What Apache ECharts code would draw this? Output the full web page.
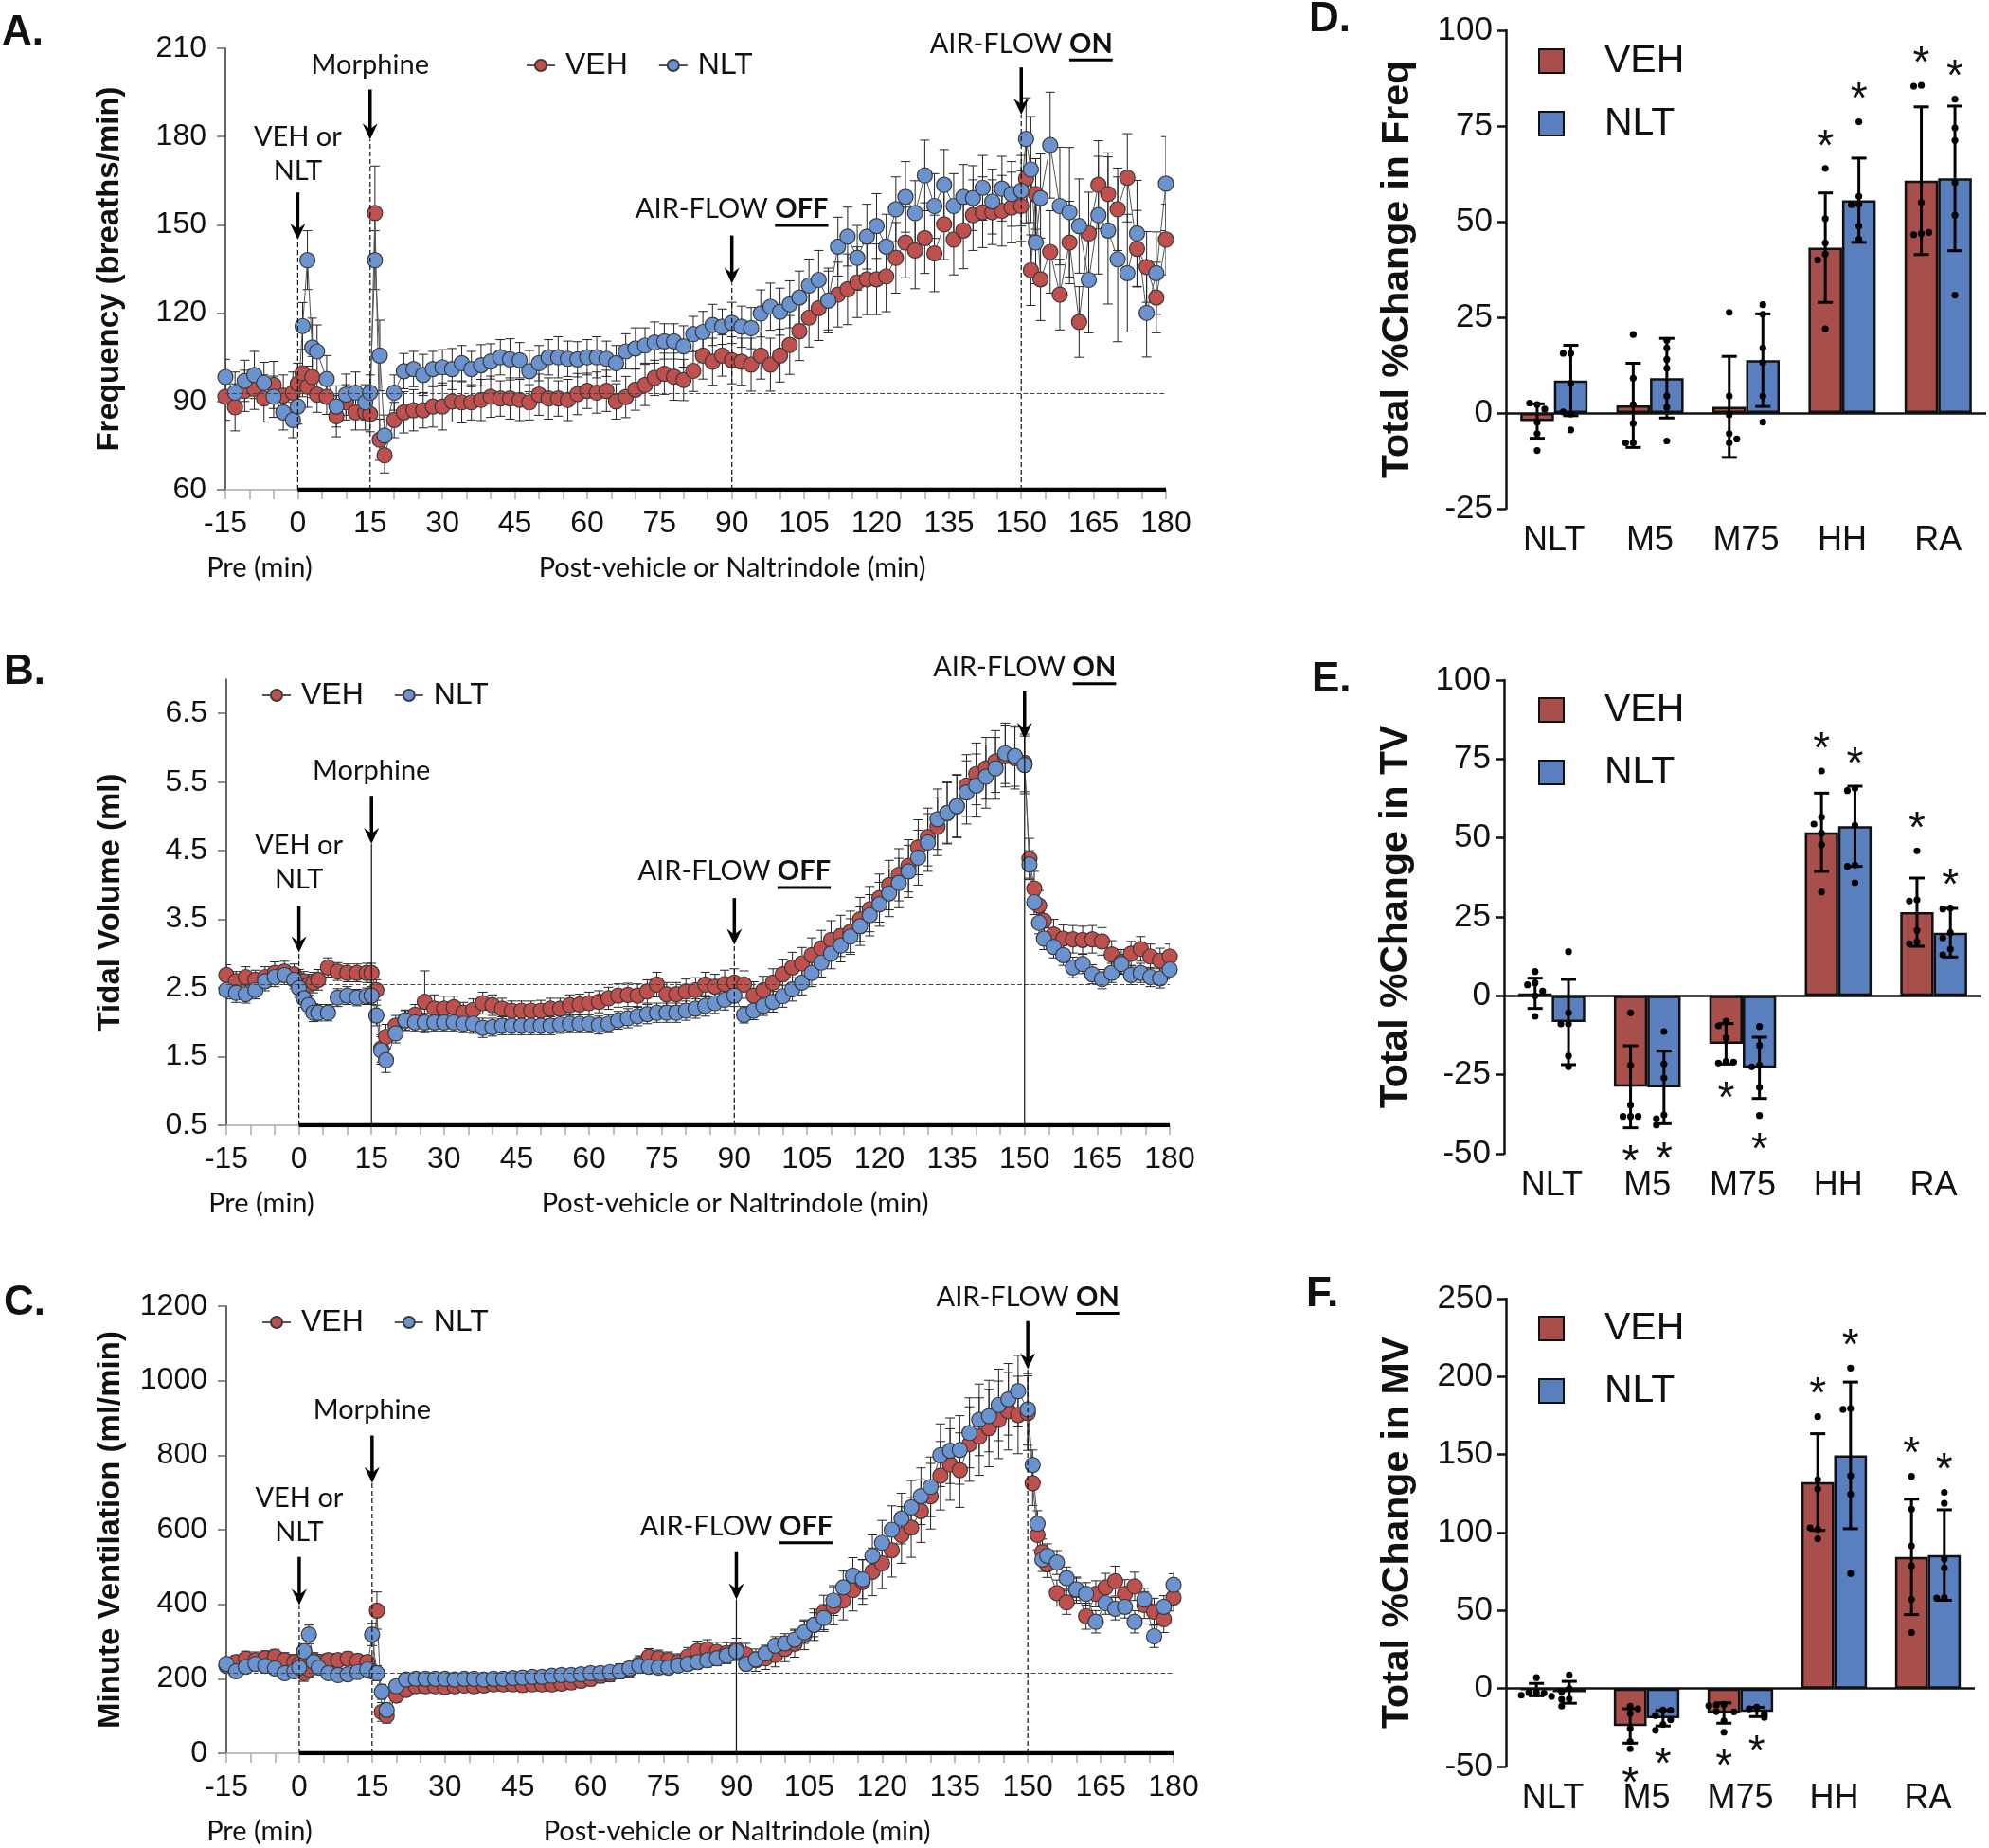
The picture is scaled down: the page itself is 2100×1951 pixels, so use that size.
<!DOCTYPE html>
<html>
<head>
<meta charset="utf-8">
<script src="https://cdn.jsdelivr.net/npm/echarts@6.0.0/dist/echarts.min.js"></script>
<style>
html, body { margin: 0; padding: 0; background: #fff; }
#chart { width: 2100px; height: 1951px; }
</style>
</head>
<body>
<div id="chart"></div>
<script>
'use strict';
var RED = '#C0504D', BLUE = '#6A93CF';
var BAR_RED = '#A84E4B', BAR_BLUE = '#5A7FBF';
var NUM_FONT = '"Liberation Sans", Arial, sans-serif';
var TXT_FONT = 'Lato, "Open Sans", sans-serif';

// time points (min)
var times = [-15, -13, -11, -9, -7, -5, -3, -1,
  0, 1, 2, 3, 4, 6, 8, 10, 12, 14,
  15, 16, 17, 18,
  20, 22, 24, 26, 28, 30, 32, 34, 36, 38, 40, 42, 44,
  46, 48, 50, 52, 54, 56, 58, 60, 62, 64, 66, 68, 70,
  72, 74, 76, 78, 80, 82, 84, 86, 88, 90, 92, 94, 96,
  98, 100, 102, 104, 106, 108, 110, 112, 114, 116, 118, 120, 122,
  124, 126, 128, 130, 132, 134, 136, 138, 140, 142, 144, 146, 148,
  150, 151, 152, 153, 154,
  156, 158, 160, 162, 164, 166, 168, 170, 172, 174, 176, 178, 180];

// A. frequency (breaths/min)
var freqVeh = [91.6, 88, 93.6, 94.3, 91, 95.6, 92, 93,
  96, 99.6, 95, 98.3, 92.3, 91.6, 85, 89.7, 86.3, 86.3,
  85.7, 154, 77, 71.7,
  83.7, 86.3, 87, 87, 88.3, 88.3, 90, 89.7, 89.7, 90.5, 91.6, 91, 91,
  90.5, 89.7, 92.3, 91, 91, 90.5, 92.5, 93.6, 93, 93.6, 90, 91.5, 94,
  95.6, 98, 99.4, 98.4, 97.3, 100.4, 105.6, 103.5, 105.6, 104, 103.5, 102.5, 105.6,
  102.5, 105.6, 109.2, 113.9, 118.5, 121.7, 124.3, 126.3, 128.1, 130.5, 131.5, 131.5, 132.5,
  138.8, 144, 141.3, 145.5, 140.3, 150.2, 145, 148.1, 153.3, 154.3, 154.3, 154.8, 155.9,
  156.4, 165.7, 134.6, 160.5, 131.5,
  140.8, 126.3, 144, 117, 147.1, 163.6, 160.5, 155.3, 166, 141.9, 135.7, 125.3, 145];
var freqNlt = [98.3, 93, 97, 99, 96.3, 91.6, 86.3, 83.7,
  88.3, 115.6, 138, 108.3, 107, 97.6, 88.3, 92.3, 93, 89.7,
  93, 138, 105.6, 78.4,
  93, 100.3, 101, 99, 101, 101.6, 101, 103, 101, 102.3, 103.6, 105, 104.3,
  104, 100.3, 103, 105, 105, 104.5, 104.3, 105, 105, 104.5, 103, 107, 108,
  109, 110, 110.4, 110.4, 108.7, 112.9, 113.6, 116, 115.4, 116.7, 115.4, 114.9, 119.9,
  122.2, 120.5, 123, 125.3, 129.4, 131.3, 124.3, 142.6, 146, 138.8, 146, 149.6, 142.6,
  155.3, 159.5, 154, 166.8, 156.4, 163.6, 156.4, 159.5, 159.1, 162.6, 157.9, 162.3, 160.5,
  161.6, 179.2, 168.8, 144, 159.1,
  177.1, 156.4, 154.3, 149.6, 131.3, 153.3, 148.1, 138.3, 133.6, 147.1, 120.1, 133.6, 164];
var freqVehErr = [8, 8, 7, 7, 8, 8, 7, 7,
  7, 8, 7, 7, 6, 6, 7, 6, 6, 6,
  6, 16, 7, 6,
  6, 7, 7, 6, 7, 8, 7, 7, 6, 7, 7, 6, 7,
  7, 6, 7, 7, 6, 7, 7, 6, 7, 7, 6, 7, 7,
  7, 6, 7, 8, 7, 7, 8, 8, 7, 8, 8, 9, 8,
  9, 9, 10, 10, 10, 11, 11, 11, 12, 12, 12, 12, 12,
  12, 12, 13, 12, 13, 12, 12, 13, 12, 12, 11, 12, 12,
  12, 15, 12, 12, 14,
  14, 12, 14, 12, 14, 15, 14, 14, 15, 13, 12, 12, 12];
var freqNltErr = [6, 7, 7, 8, 7, 7, 6, 6,
  6, 8, 10, 10, 9, 8, 7, 7, 7, 6,
  6, 10, 12, 7,
  6, 6, 6, 7, 6, 6, 7, 6, 6, 7, 6, 6, 7,
  6, 7, 6, 6, 7, 6, 6, 6, 7, 6, 6, 6, 7,
  6, 7, 6, 6, 7, 6, 7, 7, 6, 7, 7, 7, 8,
  8, 8, 8, 9, 9, 10, 10, 10, 10, 11, 11, 11, 11,
  11, 12, 11, 12, 11, 12, 11, 11, 11, 11, 11, 11, 11,
  12, 14, 18, 14, 15,
  18, 20, 22, 16, 18, 20, 25, 28, 20, 18, 15, 14, 16];

// B. tidal volume (ml)
var tvVeh = [2.69, 2.6, 2.66, 2.62, 2.66, 2.72, 2.74, 2.7,
  2.62, 2.6, 2.55, 2.58, 2.62, 2.8, 2.74, 2.72, 2.72, 2.72,
  2.72, 2.47, 1.62, 1.79,
  1.95, 2.03, 2.11, 2.3, 2.2, 2.2, 2.22, 2.14, 2.18, 2.28, 2.25, 2.2, 2.17,
  2.17, 2.17, 2.17, 2.2, 2.2, 2.25, 2.26, 2.28, 2.3, 2.35, 2.39, 2.4, 2.39,
  2.45, 2.55, 2.41, 2.41, 2.45, 2.47, 2.55, 2.52, 2.56, 2.58, 2.55, 2.39, 2.47,
  2.58, 2.7, 2.8, 2.86, 2.98, 3.08, 3.2, 3.26, 3.32, 3.5, 3.65, 3.81, 4.0,
  4.15, 4.28, 4.55, 4.7, 4.85, 5.05, 5.15, 5.45, 5.62, 5.7, 5.8, 5.88, 5.85,
  5.78, 4.38, 3.95, 3.7, 3.48,
  3.28, 3.22, 3.21, 3.2, 3.21, 3.18, 2.99, 2.88, 3.0, 3.07, 2.96, 2.9, 2.96];
var tvNlt = [2.47, 2.43, 2.41, 2.47, 2.6, 2.66, 2.69, 2.62,
  2.5, 2.35, 2.25, 2.14, 2.14, 2.14, 2.36, 2.39, 2.36, 2.38,
  2.39, 2.1, 1.59, 1.45,
  1.84, 2.03, 2.0, 2.0, 2.0, 2.0, 2.0, 1.98, 1.98, 1.92, 1.93, 1.95, 1.95,
  1.95, 1.95, 1.95, 1.95, 1.97, 1.98, 1.98, 1.98, 1.96, 1.98, 2.03, 2.06, 2.09,
  2.12, 2.14, 2.14, 2.14, 2.17, 2.2, 2.24, 2.28, 2.33, 2.39, 2.11, 2.17, 2.24,
  2.3, 2.38, 2.48, 2.58, 2.72, 2.87, 3.0, 3.12, 3.25, 3.4, 3.56, 3.72, 3.88,
  4.03, 4.2, 4.4, 4.62, 4.96, 5.05, 5.15, 5.35, 5.45, 5.58, 5.7, 5.92, 5.88,
  5.75, 4.3, 3.75, 3.45, 3.22,
  3.1, 2.98, 2.8, 2.85, 2.7, 2.63, 2.72, 2.85, 2.69, 2.72, 2.66, 2.64, 2.77];
var tvVehErr = [0.15, 0.14, 0.15, 0.14, 0.15, 0.16, 0.15, 0.15,
  0.15, 0.14, 0.15, 0.15, 0.15, 0.14, 0.13, 0.13, 0.13, 0.14,
  0.14, 0.15, 0.2, 0.18,
  0.15, 0.15, 0.15, 0.45, 0.2, 0.18, 0.16, 0.15, 0.16, 0.16, 0.15, 0.15, 0.14,
  0.14, 0.14, 0.15, 0.15, 0.15, 0.15, 0.15, 0.16, 0.16, 0.16, 0.17, 0.17, 0.17,
  0.17, 0.18, 0.17, 0.17, 0.18, 0.18, 0.18, 0.18, 0.2, 0.2, 0.2, 0.2, 0.2,
  0.2, 0.22, 0.22, 0.23, 0.25, 0.26, 0.28, 0.3, 0.3, 0.32, 0.33, 0.35, 0.36,
  0.38, 0.38, 0.4, 0.42, 0.42, 0.44, 0.45, 0.45, 0.45, 0.45, 0.45, 0.45, 0.45,
  0.42, 0.3, 0.25, 0.22, 0.22,
  0.22, 0.2, 0.2, 0.2, 0.2, 0.2, 0.2, 0.18, 0.18, 0.18, 0.18, 0.18, 0.18];
var tvNltErr = [0.13, 0.14, 0.13, 0.13, 0.14, 0.14, 0.14, 0.13,
  0.14, 0.13, 0.13, 0.13, 0.12, 0.12, 0.13, 0.13, 0.12, 0.12,
  0.13, 0.15, 0.2, 0.18,
  0.14, 0.14, 0.13, 0.13, 0.13, 0.13, 0.13, 0.13, 0.14, 0.14, 0.13, 0.13, 0.13,
  0.13, 0.13, 0.13, 0.13, 0.13, 0.13, 0.13, 0.13, 0.13, 0.13, 0.13, 0.14, 0.14,
  0.14, 0.14, 0.14, 0.14, 0.14, 0.14, 0.15, 0.15, 0.15, 0.16, 0.12, 0.13, 0.14,
  0.15, 0.16, 0.17, 0.18, 0.2, 0.21, 0.22, 0.24, 0.26, 0.28, 0.3, 0.32, 0.34,
  0.36, 0.38, 0.4, 0.42, 0.44, 0.45, 0.46, 0.46, 0.46, 0.46, 0.45, 0.44, 0.44,
  0.42, 0.2, 0.18, 0.16, 0.16,
  0.16, 0.15, 0.15, 0.14, 0.14, 0.14, 0.14, 0.14, 0.14, 0.14, 0.14, 0.14, 0.14];

// C. minute ventilation (ml/min)
var mvVeh = [235, 245, 254, 250, 255, 259, 250, 245,
  240, 215, 225, 250, 245, 250, 250, 254, 248, 245,
  220, 383, 111, 101,
  155, 170, 180, 180, 180, 178, 180, 182, 180, 182, 185, 185, 185,
  183, 185, 185, 185, 187, 190, 195, 200, 208, 212, 220, 225, 240,
  259, 255, 250, 245, 260, 275, 279, 272, 269, 279, 265, 250, 255,
  264, 280, 294, 318, 345, 378, 395, 410, 438, 460, 487, 510, 545,
  586, 606, 650, 690, 745, 775, 760, 830, 850, 873, 895, 918, 908,
  913, 725, 586, 540, 507,
  430, 405, 438, 368, 428, 445, 462, 428, 448, 398, 380, 360, 418];
var mvNlt = [240, 220, 232, 240, 235, 228, 215, 220,
  230, 274, 319, 245, 230, 215, 210, 212, 218, 225,
  319, 215, 165, 116,
  180, 198, 200, 200, 200, 200, 198, 200, 200, 198, 200, 200, 202,
  203, 205, 205, 208, 210, 210, 212, 215, 215, 218, 220, 228, 235,
  232, 230, 230, 236, 240, 245, 250, 255, 262, 274, 240, 252, 268,
  289, 295, 305, 325, 345, 363, 410, 445, 477, 467, 530, 565, 600,
  630, 660, 690, 715, 800, 812, 814, 860, 895, 905, 935, 950, 972,
  923, 774, 616, 520, 530,
  512, 470, 440, 428, 353, 403, 388, 393, 353, 413, 314, 393, 452];
var mvVehErr = [20, 18, 20, 22, 20, 20, 20, 20,
  20, 22, 20, 20, 20, 18, 18, 18, 18, 18,
  18, 50, 25, 20,
  18, 17, 18, 18, 17, 18, 18, 17, 18, 18, 17, 18, 18,
  18, 17, 18, 18, 18, 18, 18, 19, 19, 20, 20, 20, 22,
  22, 22, 22, 22, 24, 26, 26, 26, 28, 30, 30, 30, 30,
  32, 34, 36, 40, 42, 46, 50, 52, 56, 60, 64, 68, 72,
  76, 80, 84, 88, 92, 96, 100, 100, 104, 104, 104, 104, 104,
  100, 60, 40, 35, 35,
  35, 32, 35, 35, 35, 38, 40, 38, 38, 36, 36, 36, 36];
var mvNltErr = [16, 16, 16, 16, 16, 16, 16, 16,
  16, 20, 25, 20, 16, 14, 14, 14, 14, 14,
  30, 20, 20, 18,
  14, 13, 14, 14, 13, 14, 14, 13, 14, 14, 13, 14, 14,
  14, 14, 14, 14, 15, 15, 15, 15, 16, 16, 16, 17, 17,
  17, 18, 18, 18, 18, 19, 19, 20, 20, 22, 18, 20, 22,
  24, 26, 28, 30, 32, 36, 40, 44, 48, 52, 56, 60, 64,
  68, 72, 76, 80, 84, 88, 92, 94, 96, 96, 96, 96, 96,
  96, 40, 35, 32, 32,
  32, 30, 30, 30, 30, 30, 30, 30, 30, 30, 30, 30, 30];

// D-F. total % change (mean, SD, individual rats)
var cats = ['NLT', 'M5', 'M75', 'HH', 'RA'];
var freqChgVeh = [-2.1, 2.0, 1.6, 43.2, 60.7];
var freqChgVehSd = [4.5, 11.0, 13.2, 14.3, 19.3];
var freqChgNlt = [8.5, 9.1, 13.8, 55.6, 61.3];
var freqChgNltSd = [9.2, 10.4, 12.1, 11.0, 18.9];
var freqPtsVeh = [[2.2, 2.6, 1.0, -2.4, -5.4, -9.8], [20.5, 9.1, 2.2, -2.7, -7.8, -7.8], [26.3, 4.4, -0.5, -5.4, -7.8, -6.8], [63.9, 50.8, 44.4, 41.5, 40.0, 22.0], [85.6, 85.4, 55.0, 46.9, 46.6, 47.2]];
var freqPtsNlt = [[15.6, 15.6, 7.8, -0.3, -4.4, 0.3], [19.0, 17.0, 14.0, 11.7, 4.4, 1.5, -7.3], [28.3, 17.0, 13.2, 4.4, -2.4, 25.8], [76.1, 56.6, 54.6, 48.8, 45.4, 54.4], [82.0, 74.5, 71.2, 60.2, 51.7, 30.8]];
var freqStars = [0, 0, 0, 1, 1];

var tvChgVeh = [0.8, -28.8, -15.2, 51.8, 26.5];
var tvChgVehSd = [4.8, 13.0, 6.4, 12.4, 10.8];
var tvChgNlt = [-8.3, -29.0, -22.8, 53.7, 20.0];
var tvChgNltSd = [13.5, 11.5, 9.7, 12.7, 7.7];
var tvPtsVeh = [[7.7, 4.1, 3.5, 0.0, -6.5, 1.5], [-5.4, -22.0, -34.6, -38.2, -38.2, -38.2], [-8.0, -9.5, -13.3, -20.8, -21.3, -21.0], [71.2, 56.6, 54.4, 51.5, 47.9, 32.9], [45.9, 30.4, 30.0, 20.7, 17.1, 16.5]];
var tvPtsNlt = [[14.0, -5.4, -8.9, -8.9, -19.0, -22.5], [-11.3, -21.6, -26.0, -37.7, -38.9, -40.9], [-9.7, -15.7, -22.0, -22.5, -29.0, -37.9], [65.7, 65.0, 54.0, 41.4, 41.0, 35.8], [27.8, 27.5, 20.0, 18.3, 14.8, 13.0]];
var tvStars = [0, -1, -1, 1, 1];

var mvChgVeh = [-0.7, -24.0, -15.7, 132.4, 84.4];
var mvChgVehSd = [4.0, 11.0, 6.5, 31.0, 37.0];
var mvChgNlt = [-2.4, -19.0, -15.0, 149.5, 85.6];
var mvChgNltSd = [7.0, 5.0, 3.0, 47.0, 29.0];
var mvPtsVeh = [[7.0, -2.6, -2.6, -3.0, -4.3, -5.0], [-11.4, -16.0, -25.6, -33.9, -38.6, -13.0], [-10.2, -10.5, -14.8, -20.7, -28.0, -11.0], [174.3, 134.0, 128.0, 102.1, 96.0, 103.0], [136.0, 115.0, 91.5, 78.5, 57.2, 35.9]];
var mvPtsNlt = [[8.7, 0.0, -6.6, -7.0, -11.3, -2.0], [-13.8, -17.3, -23.0, -26.8, -20.0, -14.0], [-12.0, -13.0, -16.0, -17.0, -18.5, -15.0], [205.5, 179.5, 179.0, 136.4, 124.6, 73.8], [125.8, 118.7, 83.2, 77.3, 58.4, 58.0]];
var mvStars = [0, -1, -1, 1, 1];

// arrows: time, arrow tip / tail and label height in data units
var eventsA = [
  {t: 0, tip: 145, tail: 161, y: 174, text: 'VEH or\nNLT', dash: true},
  {t: 15, tip: 179, tail: 196, y: 204.4, text: 'Morphine', dash: true},
  {t: 90, tip: 130, tail: 146.4, y: 155.3, text: 'AIR-FLOW ', bold: 'OFF', dash: true},
  {t: 150, tip: 187.5, tail: 203.5, y: 211.5, text: 'AIR-FLOW ', bold: 'ON', dash: true}
];
var eventsB = [
  {t: 0, tip: 3.02, tail: 3.7, y: 4.33, text: 'VEH or\nNLT', dash: true},
  {t: 15, tip: 4.6, tail: 5.3, y: 5.67, text: 'Morphine', dash: false},
  {t: 90, tip: 3.13, tail: 3.81, y: 4.2, text: 'AIR-FLOW ', bold: 'OFF', dash: true},
  {t: 150, tip: 6.13, tail: 6.82, y: 7.17, text: 'AIR-FLOW ', bold: 'ON', dash: false}
];
var eventsC = [
  {t: 0, tip: 398, tail: 527, y: 640, text: 'VEH or\nNLT', dash: true},
  {t: 15, tip: 725, tail: 853, y: 921, text: 'Morphine', dash: true},
  {t: 90, tip: 413, tail: 542, y: 608, text: 'AIR-FLOW ', bold: 'OFF', dash: false},
  {t: 150, tip: 1031, tail: 1160, y: 1224, text: 'AIR-FLOW ', bold: 'ON', dash: true}
];

var leftPanels = [
  {grid: {left: 238, top: 51, width: 993, height: 466}, yMin: 60, yMax: 210, yStep: 30,
   yName: 'Frequency (breaths/min)', veh: freqVeh, nlt: freqNlt, vehErr: freqVehErr, nltErr: freqNltErr,
   base: 92.8, events: eventsA, legend: {left: 550, top: 48}},
  {grid: {left: 239, top: 717, width: 996, height: 471}, yMin: 0.5, yMax: 7,
   yTicks: [0.5, 1.5, 2.5, 3.5, 4.5, 5.5, 6.5], digits: 1,
   yName: 'Tidal Volume (ml)', veh: tvVeh, nlt: tvNlt, vehErr: tvVehErr, nltErr: tvNltErr,
   base: 2.55, events: eventsB, legend: {left: 271, top: 713}},
  {grid: {left: 239, top: 1379, width: 1000, height: 472}, yMin: 0, yMax: 1200, yStep: 200,
   yName: 'Minute Ventilation (ml/min)', veh: mvVeh, nlt: mvNlt, vehErr: mvVehErr, nltErr: mvNltErr,
   base: 215, events: eventsC, legend: {left: 271, top: 1375}}
];
var barPanels = [
  {grid: {left: 1590, top: 32, width: 507, height: 505}, yMin: -25, yMax: 100, yStep: 25,
   yName: 'Total %Change in Freq', veh: freqChgVeh, vehSd: freqChgVehSd, nlt: freqChgNlt, nltSd: freqChgNltSd,
   vehPts: freqPtsVeh, nltPts: freqPtsNlt, stars: freqStars, legendTop: 39},
  {grid: {left: 1588, top: 718, width: 504, height: 500}, yMin: -50, yMax: 100, yStep: 25,
   yName: 'Total %Change in TV', veh: tvChgVeh, vehSd: tvChgVehSd, nlt: tvChgNlt, nltSd: tvChgNltSd,
   vehPts: tvPtsVeh, nltPts: tvPtsNlt, stars: tvStars, legendTop: 724},
  {grid: {left: 1590, top: 1371, width: 495, height: 494}, yMin: -50, yMax: 250, yStep: 50,
   yName: 'Total %Change in MV', veh: mvChgVeh, vehSd: mvChgVehSd, nlt: mvChgNlt, nltSd: mvChgNltSd,
   vehPts: mvPtsVeh, nltPts: mvPtsNlt, stars: mvStars, legendTop: 1377}
];

var measureCtx = document.createElement('canvas').getContext('2d');
function textWidth(str, font) { measureCtx.font = font; return measureCtx.measureText(str).width; }

var option = {animation: false, backgroundColor: '#fff', grid: [], xAxis: [], yAxis: [], series: [], legend: [], graphic: {elements: []}};

function errRender(params, api) {
  var x = api.value(0), y = api.value(1), e = api.value(2);
  var hi = api.coord([x, y + e]), lo = api.coord([x, y - e]);
  var c = 5, st = {stroke: '#222', lineWidth: 1};
  return {type: 'group', children: [
    {type: 'line', shape: {x1: hi[0], y1: hi[1], x2: lo[0], y2: lo[1]}, style: st},
    {type: 'line', shape: {x1: hi[0] - c, y1: hi[1], x2: hi[0] + c, y2: hi[1]}, style: st},
    {type: 'line', shape: {x1: lo[0] - c, y1: lo[1], x2: lo[0] + c, y2: lo[1]}, style: st}
  ]};
}

function eventRender(p) {
  return function (params, api) {
    var e = p.events[params.dataIndex];
    var base = api.coord([e.t, p.yMin]);
    var tip = api.coord([e.t, e.tip]);
    var tail = api.coord([e.t, e.tail]);
    var lab = api.coord([e.t, e.y]);
    var x = tip[0], ty = tip[1];
    var kids = [
      {type: 'line', shape: {x1: x, y1: base[1], x2: x, y2: ty}, style: {stroke: '#111', lineWidth: 1.2, lineDash: e.dash ? [5, 3] : [0]}},
      {type: 'line', shape: {x1: x, y1: tail[1], x2: x, y2: ty - 10}, style: {stroke: '#000', lineWidth: 3.5}},
      {type: 'polygon', shape: {points: [[x - 8, ty - 17], [x, ty - 11], [x + 8, ty - 17], [x, ty]]}, style: {fill: '#000'}}
    ];
    if (e.bold) {
      var fn = '29px ' + TXT_FONT, fb = 'bold 29px ' + TXT_FONT;
      var wN = textWidth(e.text, fn), wB = textWidth(e.bold, fb);
      var x0 = x - (wN + wB) / 2;
      kids.push({type: 'text', style: {text: '{n|' + e.text + '}{b|' + e.bold + '}', x: x, y: lab[1], align: 'center', verticalAlign: 'middle',
        rich: {n: {fontSize: 29, fontFamily: TXT_FONT, fill: '#111'}, b: {fontSize: 29, fontFamily: TXT_FONT, fontWeight: 'bold', fill: '#111'}}}});
      kids.push({type: 'line', shape: {x1: x0 + wN, y1: lab[1] + 17, x2: x0 + wN + wB, y2: lab[1] + 17}, style: {stroke: '#000', lineWidth: 3}});
    } else {
      kids.push({type: 'text', style: {text: e.text, x: x, y: lab[1], align: 'center', verticalAlign: 'middle',
        fontSize: 29, fontFamily: TXT_FONT, fill: '#111', lineHeight: 36}});
    }
    return {type: 'group', children: kids};
  };
}

leftPanels.forEach(function (p, gi) {
  option.grid.push(Object.assign({containLabel: false, outerBoundsMode: 'none'}, p.grid));
  option.xAxis.push({
    gridIndex: gi, type: 'value', min: -15, max: 180, interval: 5,
    axisLine: {show: true, onZero: false, lineStyle: {color: '#aaa', width: 1.5}},
    axisTick: {show: true, length: 10, lineStyle: {color: '#aaa', width: 1.5}},
    axisLabel: {fontSize: 32, fontFamily: NUM_FONT, color: '#111', margin: 20,
      formatter: function (v) { return v % 15 === 0 ? String(v) : ''; }},
    splitLine: {show: false}
  });
  var ya = {
    gridIndex: gi, type: 'value', min: p.yMin, max: p.yMax,
    name: p.yName, nameLocation: 'middle', nameGap: 106,
    nameTextStyle: {fontSize: 33, fontWeight: 'bold', fontFamily: NUM_FONT, color: '#111'},
    axisLine: {show: true, onZero: false, lineStyle: {color: '#333', width: 1.5}},
    axisTick: {show: true, length: 9, lineStyle: {color: '#666', width: 1.5}},
    axisLabel: {fontSize: 32, fontFamily: NUM_FONT, color: '#111', margin: 20,
      formatter: function (v) { return p.digits ? v.toFixed(p.digits) : String(v); }},
    splitLine: {show: false}
  };
  if (p.yTicks) {
    ya.axisLabel.customValues = p.yTicks;
    ya.axisTick.customValues = p.yTicks;
  } else {
    ya.interval = p.yStep;
  }
  option.yAxis.push(ya);

  [[p.veh, p.vehErr], [p.nlt, p.nltErr]].forEach(function (pair) {
    option.series.push({
      type: 'custom', name: 'err', xAxisIndex: gi, yAxisIndex: gi, clip: true,
      renderItem: errRender, encode: {x: 0, y: 1}, silent: true,
      data: times.map(function (t, i) { return [t, pair[0][i], pair[1][i]]; })
    });
  });
  [['VEH', p.veh, RED], ['NLT', p.nlt, BLUE]].forEach(function (s, n) {
    var ser = {
      type: 'line', name: s[0], xAxisIndex: gi, yAxisIndex: gi,
      data: times.map(function (t, i) { return [t, s[1][i]]; }),
      symbol: 'circle', symbolSize: 16, showAllSymbol: true,
      itemStyle: {color: s[2], borderColor: '#3a3a3a', borderWidth: 1.2},
      lineStyle: {color: '#555', width: 1}
    };
    if (n === 0) {
      ser.markLine = {silent: true, symbol: ['none', 'none'], label: {show: false},
        lineStyle: {type: 'dashed', color: '#444', width: 1.2}, data: [{yAxis: p.base}]};
    }
    option.series.push(ser);
  });
  // thick bar under the post-injection period
  option.series.push({
    type: 'line', name: 'period', xAxisIndex: gi, yAxisIndex: gi, symbol: 'none', silent: true,
    data: [[0, p.yMin], [180, p.yMin]], lineStyle: {color: '#000', width: 4.5}, z: 4
  });
  option.series.push({
    type: 'custom', name: 'events', xAxisIndex: gi, yAxisIndex: gi, clip: false, silent: true,
    renderItem: eventRender(p), encode: {x: 0, y: 1}, z: 5,
    data: p.events.map(function (e) { return [e.t, e.tip]; })
  });
  option.legend.push({
    data: ['VEH', 'NLT'], left: p.legend.left, top: p.legend.top, orient: 'horizontal',
    itemWidth: 30, itemHeight: 15, itemGap: 32, selectedMode: false,
    textStyle: {fontSize: 32, fontFamily: NUM_FONT, color: '#111', lineHeight: 32, padding: [0, 0, 0, 6]}
  });
});

var JIT = [0, -8, 8, -16, 16, -24, 24];
function jitterIndex(list, tol) {
  return list.map(function (v, j) {
    var k = 0;
    for (var l = 0; l < j; l++) { if (Math.abs(list[l] - v) < tol) k++; }
    return k;
  });
}

barPanels.forEach(function (p, n) {
  var gi = n + 3;
  option.grid.push(Object.assign({containLabel: false, outerBoundsMode: 'none'}, p.grid));
  option.xAxis.push({
    gridIndex: gi, type: 'category', data: cats,
    axisLine: {show: false, onZero: false}, axisTick: {show: false},
    axisLabel: {fontSize: 36, fontFamily: NUM_FONT, color: '#111', margin: 16},
    splitLine: {show: false}
  });
  option.yAxis.push({
    gridIndex: gi, type: 'value', min: p.yMin, max: p.yMax, interval: p.yStep,
    name: p.yName, nameLocation: 'middle', nameGap: 94,
    nameTextStyle: {fontSize: 41, fontWeight: 'bold', fontFamily: NUM_FONT, color: '#111'},
    axisLine: {show: true, onZero: false, lineStyle: {color: '#111', width: 2.5}},
    axisTick: {show: true, length: 9, lineStyle: {color: '#111', width: 2.5}},
    axisLabel: {fontSize: 35, fontFamily: NUM_FONT, color: '#111', margin: 14},
    splitLine: {show: false}
  });
  var tol = (p.yMax - p.yMin) * 0.015;
  var groups = [
    {name: 'VEH_b', mean: p.veh, sd: p.vehSd, pts: p.vehPts, color: BAR_RED, side: -1},
    {name: 'NLT_b', mean: p.nlt, sd: p.nltSd, pts: p.nltPts, color: BAR_BLUE, side: 1}
  ];
  groups.forEach(function (g, k) {
    var bar = {
      type: 'bar', name: g.name, xAxisIndex: gi, yAxisIndex: gi, data: g.mean,
      barGap: '0%', barCategoryGap: '30%',
      itemStyle: {color: g.color, borderColor: '#111', borderWidth: 2.5}
    };
    if (k === 0) {
      bar.markLine = {silent: true, symbol: ['none', 'none'], label: {show: false},
        lineStyle: {type: 'solid', color: '#111', width: 2.5}, data: [{yAxis: 0}]};
    }
    option.series.push(bar);
  });
  groups.forEach(function (g) {
    var off = function (api) { return g.side * api.size([1, 0])[0] * 0.175; };
    option.series.push({
      type: 'custom', name: 'sd', xAxisIndex: gi, yAxisIndex: gi, encode: {x: 0, y: 1}, silent: true, z: 4,
      data: g.mean.map(function (m, i) { return [i, m, g.sd[i]]; }),
      renderItem: function (params, api) {
        var i = api.value(0), m = api.value(1), s = api.value(2);
        var hi = api.coord([i, m + s]), lo = api.coord([i, m - s]);
        var x = hi[0] + off(api), c = 8, st = {stroke: '#000', lineWidth: 3};
        return {type: 'group', children: [
          {type: 'line', shape: {x1: x, y1: hi[1], x2: x, y2: lo[1]}, style: st},
          {type: 'line', shape: {x1: x - c, y1: hi[1], x2: x + c, y2: hi[1]}, style: st},
          {type: 'line', shape: {x1: x - c, y1: lo[1], x2: x + c, y2: lo[1]}, style: st}
        ]};
      }
    });
    var dots = [];
    g.pts.forEach(function (list, i) {
      var ks = jitterIndex(list, tol);
      list.forEach(function (v, j) { dots.push([i, v, ks[j]]); });
    });
    option.series.push({
      type: 'custom', name: 'pts', xAxisIndex: gi, yAxisIndex: gi, encode: {x: 0, y: 1}, silent: true, z: 5,
      data: dots,
      renderItem: function (params, api) {
        var c = api.coord([api.value(0), api.value(1)]);
        var x = c[0] + off(api) + JIT[api.value(2)];
        return {type: 'circle', shape: {cx: x, cy: c[1], r: 3.6}, style: {fill: '#000'}};
      }
    });
    var stars = [];
    p.stars.forEach(function (s, i) {
      if (!s) return;
      var vals = g.pts[i].concat([g.mean[i] + g.sd[i], g.mean[i] - g.sd[i]]);
      var anchor = s > 0 ? Math.max.apply(null, vals) : Math.min.apply(null, vals);
      stars.push([i, anchor, s]);
    });
    option.series.push({
      type: 'custom', name: 'stars', xAxisIndex: gi, yAxisIndex: gi, encode: {x: 0, y: 1}, silent: true, z: 5,
      data: stars,
      renderItem: function (params, api) {
        var c = api.coord([api.value(0), api.value(1)]);
        var y = c[1] + (api.value(2) > 0 ? -30 : 30) + 8;
        return {type: 'text', style: {text: '*', x: c[0] + off(api), y: y, align: 'center', verticalAlign: 'middle',
          fontSize: 46, fontFamily: NUM_FONT, fill: '#111'}};
      }
    });
  });
  option.legend.push({
    data: ['VEH_b', 'NLT_b'], left: 1619, top: p.legendTop, orient: 'vertical', icon: 'rect',
    itemWidth: 26, itemHeight: 25, itemGap: 25, selectedMode: false,
    formatter: function (name) { return name.replace('_b', ''); },
    textStyle: {fontSize: 41, fontFamily: NUM_FONT, color: '#111', lineHeight: 41, padding: [0, 0, 0, 38]}
  });
});

// panel letters and x-axis captions
var labels = [
  ['A.', 2, 35, 'bold 44px ' + NUM_FONT, 'left'], ['B.', 4, 710, 'bold 44px ' + NUM_FONT, 'left'],
  ['C.', 4, 1376, 'bold 44px ' + NUM_FONT, 'left'], ['D.', 1382, 21, 'bold 44px ' + NUM_FONT, 'left'],
  ['E.', 1385, 718, 'bold 44px ' + NUM_FONT, 'left'], ['F.', 1379, 1367, 'bold 44px ' + NUM_FONT, 'left'],
  ['Pre (min)', 274, 600, '29px ' + TXT_FONT, 'center'], ['Post-vehicle or Naltrindole (min)', 773, 600, '29px ' + TXT_FONT, 'center'],
  ['Pre (min)', 276, 1271, '29px ' + TXT_FONT, 'center'], ['Post-vehicle or Naltrindole (min)', 776, 1271, '29px ' + TXT_FONT, 'center'],
  ['Pre (min)', 274, 1934, '29px ' + TXT_FONT, 'center'], ['Post-vehicle or Naltrindole (min)', 778, 1934, '29px ' + TXT_FONT, 'center']
];
labels.forEach(function (l) {
  option.graphic.elements.push({type: 'text', x: l[1], y: l[2], silent: true,
    style: {text: l[0], font: l[3], fill: '#111', align: l[4], textAlign: l[4], verticalAlign: 'middle', textVerticalAlign: 'middle'}});
});

var problems = [];
[['freqVeh', freqVeh], ['freqNlt', freqNlt], ['freqVehErr', freqVehErr], ['freqNltErr', freqNltErr],
 ['tvVeh', tvVeh], ['tvNlt', tvNlt], ['tvVehErr', tvVehErr], ['tvNltErr', tvNltErr],
 ['mvVeh', mvVeh], ['mvNlt', mvNlt], ['mvVehErr', mvVehErr], ['mvNltErr', mvNltErr]].forEach(function (a) {
  if (a[1].length !== times.length) problems.push(a[0] + ':' + a[1].length + '/' + times.length);
});
if (problems.length) {
  option.graphic.elements.push({type: 'text', x: 500, y: 650, style: {text: problems.join('  '), font: '28px sans-serif', fill: 'red'}});
}

var chart = echarts.init(document.getElementById('chart'), null, {renderer: 'canvas'});
chart.setOption(option);
</script>
</body>
</html>
